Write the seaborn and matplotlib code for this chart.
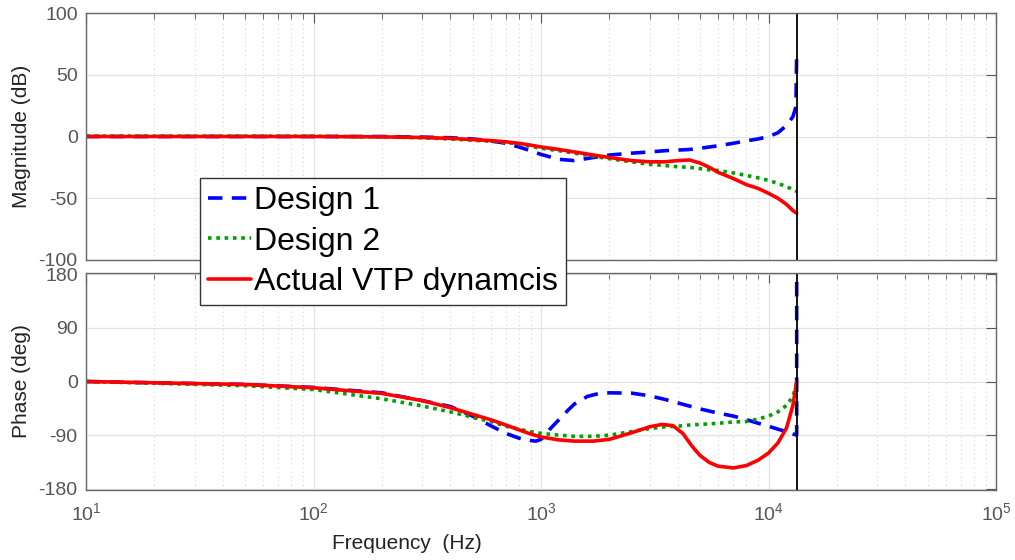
import numpy as np
import matplotlib
matplotlib.use("Agg")
import matplotlib.pyplot as plt
import matplotlib.ticker as mticker
import seaborn as sns

# frequency grid (Hz) shared by red/green curves
freq = [10, 50, 100, 200, 300, 400, 500, 600, 700, 800,
        900, 1000, 1200, 1400, 1700, 2000, 2500, 3000, 3500, 4000,
        4500, 5000, 5500, 6000, 7000, 8000, 9000, 10000, 11000, 12000,
        12800, 13300]

# magnitude (dB)
actual_mag = [0, 0, 0, -0.3, -0.8, -1.5, -2.5, -3.3, -4.3, -5.5,
              -7, -8.5, -10.5, -12.5, -15, -17, -19.5, -20.5, -20.5, -19.5,
              -19, -21.5, -25, -29, -34, -39, -42, -46, -50, -55,
              -60, -62]
design2_mag = [0.3, 0.3, 0.2, -0.3, -1, -2, -3, -3.8, -4.8, -6,
               -8, -9.5, -11.5, -13.5, -16, -18, -20.5, -22.5, -23.5, -24.5,
               -25, -26, -27, -27.5, -29.5, -31.5, -33.5, -35.5, -38, -40.5,
               -43, -44.5]
design1_mag_freq = [10, 50, 100, 200, 300, 400, 500, 600, 700, 800,
                    900, 1000, 1200, 1400, 1700, 2000, 2500, 3000, 3500, 4000,
                    4500, 5000, 5500, 6000, 7000, 8000, 9000, 10000, 11000, 12000,
                    12800, 13200, 13300]
design1_mag = [0, 0, 0, 0, -0.5, -1, -2, -3.5, -5.5, -8.5,
               -11.5, -14.5, -18.5, -19.5, -17, -15, -13.5, -12.5, -11.5, -11,
               -10.5, -9.5, -8.5, -7.5, -5.5, -3.5, -2, 0, 3, 9,
               16, 24, 70]

# phase (deg)
actual_phase_freq = [10, 50, 100, 200, 300, 400, 500, 600, 700, 800,
                     900, 1000, 1200, 1400, 1700, 2000, 2500, 3000, 3400, 3800,
                     4200, 4600, 5000, 5500, 6000, 7000, 8000, 9000, 10000, 11000,
                     12000, 12800, 13300]
actual_phase = [0, -5, -10.5, -20, -32, -44, -55, -64, -73, -81,
                -88, -93, -98, -100, -100, -97, -86, -76, -72, -74,
                -87, -108, -124, -136, -142, -145, -141, -132, -120, -103,
                -78, -40, 0]
design2_phase = [0, -7, -13.5, -29, -41, -51, -60, -67, -75, -80,
                 -84, -87, -90, -92, -92, -90, -84, -79, -76, -75,
                 -73, -72, -71, -70, -68, -67, -63, -58, -51, -40,
                 -25, -5]
design1_phase_freq = [10, 50, 100, 200, 300, 400, 500, 600, 700, 800,
                      900, 950, 1000, 1050, 1100, 1200, 1300, 1400, 1600, 1800,
                      2000, 2500, 3000, 3500, 4000, 5000, 6000, 7000, 8000, 9000,
                      10000, 11000, 12000, 12800, 13300, 13300]
design1_phase = [0, -5, -10, -19, -32, -42, -58, -74, -87, -95,
                 -99, -100, -97, -89, -79, -64, -50, -38, -25, -20,
                 -19, -19.5, -24, -30, -36, -46, -53, -58, -64, -70,
                 -75, -80, -84, -88, -90, 180]

f_nyq = 13300
labels = ["Design 1", "Design 2", "Actual VTP dynamcis"]
colors = ["#0000ff", "#00a000", "#ff0000"]
styles = [(0, (4, 2.6)), (0, (1, 1.3)), "-"]

sns.set_theme(style="white")
plt.rcParams["font.family"] = ["Liberation Sans", "DejaVu Sans"]
plt.rcParams["axes.unicode_minus"] = False

fig = plt.figure(figsize=(10.15, 5.6), dpi=100)
ax1 = fig.add_axes([86/1015, 1-260/560, 910/1015, 247/560])
ax2 = fig.add_axes([86/1015, 1-490/560, 910/1015, 217/560])

mag_sets = [(design1_mag_freq, design1_mag), (freq, design2_mag), (freq, actual_mag)]
ph_sets = [(design1_phase_freq, design1_phase), (freq, design2_phase),
           (actual_phase_freq, actual_phase)]

for (fx, fy), c, ls, lab in zip(mag_sets, colors, styles, labels):
    sns.lineplot(x=fx, y=fy, ax=ax1, color=c, linestyle=ls, lw=2.6,
                 label=lab, sort=False, estimator=None, legend=False)
for (fx, fy), c, ls in zip(ph_sets, colors, styles):
    sns.lineplot(x=fx, y=fy, ax=ax2, color=c, linestyle=ls, lw=2.6,
                 sort=False, estimator=None, legend=False)

for ax in (ax1, ax2):
    ax.axvline(f_nyq, color="black", lw=1.3)
    ax.set_xscale("log")
    ax.set_xlim(10, 1e5)
    ax.xaxis.set_major_locator(mticker.LogLocator(base=10, numticks=10))
    ax.xaxis.set_minor_locator(mticker.LogLocator(base=10, subs=np.arange(2, 10), numticks=10))
    ax.grid(True, which="major", color="#e3e3e3", lw=0.9, ls="-")
    ax.grid(True, which="minor", axis="x", color="#d8d8d8", lw=0.8, ls=(0, (1, 3)))
    ax.set_axisbelow(True)
    ax.tick_params(which="both", direction="in", top=True, right=True,
                   colors="#555555", labelsize=14)
    ax.tick_params(which="major", length=7, width=0.8)
    ax.tick_params(which="minor", length=4, width=0.6)
    ax.tick_params(axis="y", pad=6)
    ax.tick_params(axis="x", pad=9)
    for s in ax.spines.values():
        s.set_color("#666666")
        s.set_linewidth(1.0)

ax1.set_ylim(-100, 100)
ax1.set_yticks([-100, -50, 0, 50, 100])
ax1.tick_params(axis="x", labelbottom=False)
ax1.set_ylabel("Magnitude (dB)", fontsize=15, color="#222222")
ax1.yaxis.set_label_coords(-0.060, 0.5)

ax2.set_ylim(-182, 182)
ax2.set_yticks([-180, -90, 0, 90, 180])
ax2.set_ylabel("Phase (deg)", fontsize=15, color="#222222")
ax2.yaxis.set_label_coords(-0.060, 0.5)
ax2.set_xlabel("Frequency  (Hz)", fontsize=15, color="#222222")
ax2.xaxis.set_label_coords((407-86)/910, -0.205)

handles = ax1.get_lines()[:3]
leg = fig.legend(handles, labels, loc="upper left",
                 bbox_to_anchor=(200/1015, 1-178/560), fontsize=23,
                 frameon=True, fancybox=False, edgecolor="#333333",
                 framealpha=1, borderpad=0.25, handlelength=1.35,
                 handletextpad=0.1, labelspacing=0.33, borderaxespad=0)
leg.get_frame().set_linewidth(1.0)
for t in leg.get_texts():
    t.set_color("black")

fig.savefig("out.png", dpi=100)
